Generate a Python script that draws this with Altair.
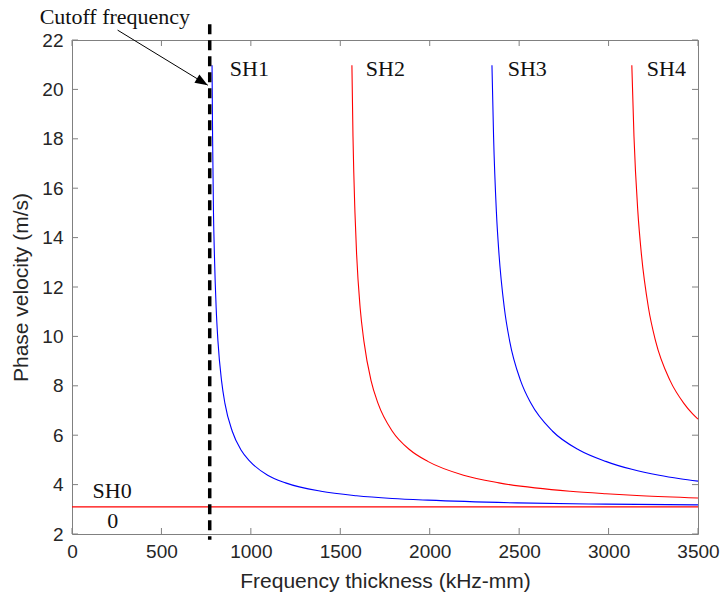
import altair as alt
import pandas as pd

# ---- data ----
x_ticks = [0, 500, 1000, 1500, 2000, 2500, 3000, 3500]
y_ticks = [2, 4, 6, 8, 10, 12, 14, 16, 18, 20, 22]

sh0_fd = [0, 3500]
sh0_vp = [3.10, 3.10]

sh1_fd = [783, 786, 791, 796, 806, 816, 836, 855, 896, 945, 995, 1094, 1194, 1392, 1591, 1790, 1989, 2487, 2984, 3500]
sh1_vp = [20.98, 18.10, 15.02, 13.37, 11.16, 9.81, 8.21, 7.29, 6.16, 5.40, 4.94, 4.38, 4.07, 3.73, 3.55, 3.44, 3.37, 3.26, 3.21, 3.18]

sh2_fd = [1565, 1571, 1582, 1591, 1611, 1632, 1672, 1711, 1791, 1890, 1989, 2189, 2387, 2785, 2985, 3183, 3500]
sh2_vp = [20.98, 18.10, 15.02, 13.37, 11.16, 9.81, 8.21, 7.29, 6.16, 5.40, 4.94, 4.38, 4.07, 3.73, 3.63, 3.55, 3.46]

sh3_fd = [2348, 2357, 2373, 2387, 2417, 2447, 2508, 2566, 2687, 2835, 2984, 3130, 3283, 3400, 3500]
sh3_vp = [20.98, 18.10, 15.02, 13.37, 11.16, 9.81, 8.21, 7.29, 6.16, 5.40, 4.94, 4.62, 4.38, 4.24, 4.14]

sh4_fd = [3130, 3142, 3164, 3183, 3223, 3263, 3344, 3421, 3470, 3500]
sh4_vp = [20.98, 18.10, 15.02, 13.37, 11.16, 9.81, 8.21, 7.29, 6.86, 6.65]

modes = ["SH0", "SH1", "SH2", "SH3", "SH4"]
mode_colors = ["#ff0000", "#0000ff", "#ff0000", "#0000ff", "#ff0000"]

cutoff_fd = 770

label_text = ["SH1", "SH2", "SH3", "SH4", "SH0"]
label_fd = [882, 1643, 2436, 3214, 115]
label_vp = [20.54, 20.54, 20.54, 20.54, 3.46]

# ---- tables ----
rows = []
for m, fds, vps in zip(modes, [sh0_fd, sh1_fd, sh2_fd, sh3_fd, sh4_fd],
                       [sh0_vp, sh1_vp, sh2_vp, sh3_vp, sh4_vp]):
    for f, v in zip(fds, vps):
        rows.append({"mode": m, "fd": f, "vp": v})
curves = pd.DataFrame(rows)
labels = pd.DataFrame({"text": label_text, "fd": label_fd, "vp": label_vp})
xt = pd.DataFrame({"t": x_ticks})
yt = pd.DataFrame({"t": y_ticks})

W, H = 626, 494
AX = "#808080"
TXT = "#262626"
SANS = "Liberation Sans"
SERIF = "Liberation Serif"

xs = alt.Scale(domain=[0, 3500], nice=False, zero=False)
ys = alt.Scale(domain=[2, 22], nice=False, zero=False)

x_axis = alt.Axis(values=x_ticks, format="d", ticks=False, tickSize=0, domain=False, grid=False,
                  labelFlush=False, labelOverlap=False, labelBound=False,
                  labelFont=SANS, labelFontSize=19, labelColor=TXT, labelPadding=8,
                  title="Frequency thickness (kHz-mm)", titleFont=SANS, titleFontSize=21,
                  titleFontWeight="normal", titleColor=TXT, titlePadding=9)
y_axis = alt.Axis(values=y_ticks, format="d", ticks=False, tickSize=0, domain=False, grid=False,
                  labelFlush=False, labelOverlap=False, labelBound=False,
                  labelFont=SANS, labelFontSize=19, labelColor=TXT, labelPadding=9,
                  title="Phase velocity (m/s)", titleFont=SANS, titleFontSize=21,
                  titleFontWeight="normal", titleColor=TXT, titlePadding=10)

lines = alt.Chart(curves).mark_line(strokeWidth=1.1, interpolate="monotone").encode(
    x=alt.X("fd:Q", scale=xs, axis=x_axis),
    y=alt.Y("vp:Q", scale=ys, axis=y_axis),
    color=alt.Color("mode:N", scale=alt.Scale(domain=modes, range=mode_colors), legend=None),
    detail="mode:N",
)

dashed = alt.Chart(pd.DataFrame({"fd": [cutoff_fd]})).mark_rule(
    color="black", strokeWidth=3.5, strokeDash=[10, 6]
).encode(
    x=alt.X("fd:Q", scale=xs),
    y=alt.datum(22.64, scale=ys),
    y2=alt.datum(1.77),
)

arrow_line = alt.Chart(pd.DataFrame({"a": [0]})).mark_rule(color="black", strokeWidth=1).encode(
    x=alt.datum(255, scale=xs),
    y=alt.datum(22.40, scale=ys),
    x2=alt.datum(759),
    y2=alt.datum(20.17),
)

arrow_head = alt.Chart(pd.DataFrame({"fd": [759], "vp": [20.17]})).mark_point(
    shape="M0,0 L-1,-0.38 L-1,0.38 Z", filled=True, color="black", opacity=1,
    size=640, angle=31, strokeWidth=0
).encode(
    x=alt.X("fd:Q", scale=xs),
    y=alt.Y("vp:Q", scale=ys),
)

mode_labels = alt.Chart(labels).mark_text(
    font=SERIF, fontSize=22, color="#111111", align="left", baseline="alphabetic"
).encode(
    x=alt.X("fd:Q", scale=xs),
    y=alt.Y("vp:Q", scale=ys),
    text="text:N",
)

zero_label = alt.Chart(pd.DataFrame({"fd": [228], "vp": [2.24], "text": ["0"]})).mark_text(
    font=SERIF, fontSize=22, color="#111111", align="center", baseline="alphabetic"
).encode(
    x=alt.X("fd:Q", scale=xs),
    y=alt.Y("vp:Q", scale=ys),
    text="text:N",
)

cutoff_label = alt.Chart(pd.DataFrame({"fd": [-181], "vp": [22.64], "text": ["Cutoff frequency"]})).mark_text(
    font=SERIF, fontSize=22, color="#111111", align="left", baseline="alphabetic"
).encode(
    x=alt.X("fd:Q", scale=xs),
    y=alt.Y("vp:Q", scale=ys),
    text="text:N",
)

TL = 6
ticks_bottom = alt.Chart(xt).mark_rule(color=AX, strokeWidth=1).encode(
    x=alt.X("t:Q", scale=xs), y=alt.value(H), y2=alt.value(H - TL))
ticks_top = alt.Chart(xt).mark_rule(color=AX, strokeWidth=1).encode(
    x=alt.X("t:Q", scale=xs), y=alt.value(0), y2=alt.value(TL))
ticks_left = alt.Chart(yt).mark_rule(color=AX, strokeWidth=1).encode(
    y=alt.Y("t:Q", scale=ys), x=alt.value(0), x2=alt.value(TL))
ticks_right = alt.Chart(yt).mark_rule(color=AX, strokeWidth=1).encode(
    y=alt.Y("t:Q", scale=ys), x=alt.value(W), x2=alt.value(W - TL))

chart = alt.layer(
    lines, ticks_bottom, ticks_top, ticks_left, ticks_right,
    dashed, arrow_line, arrow_head, mode_labels, zero_label, cutoff_label
).properties(
    width=W, height=H,
    padding={"left": 72, "top": 40, "right": 24, "bottom": 64},
    autosize=alt.AutoSizeParams(type="none"),
    background="white",
).configure_view(
    stroke=AX, strokeWidth=1
)

chart.save("out.html", embed_options={"renderer": "svg", "actions": False})
